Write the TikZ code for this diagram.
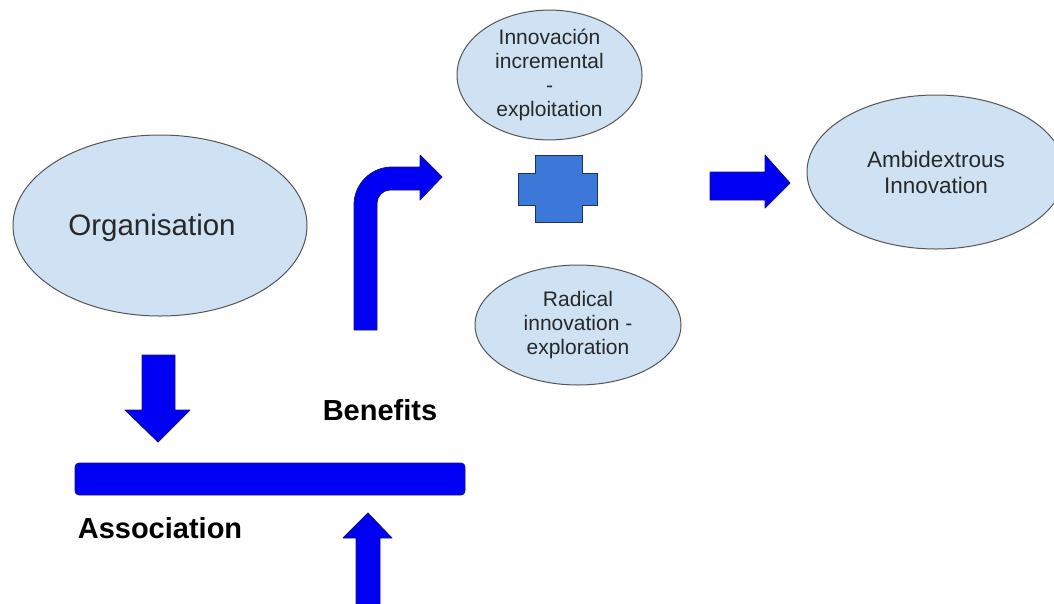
\documentclass[tikz,border=0pt]{standalone}
\usepackage{fontspec}
\setmainfont{Liberation Sans}
\usetikzlibrary{shapes.geometric}
\definecolor{ellfill}{RGB}{207,226,243}
\definecolor{ellline}{RGB}{85,85,85}
\definecolor{arrblue}{RGB}{0,0,245}
\definecolor{arrline}{RGB}{20,20,110}
\definecolor{crossfill}{RGB}{60,120,216}
\definecolor{crossline}{RGB}{28,50,100}
\definecolor{txt}{RGB}{40,40,40}
\tikzset{
  oval/.style={ellipse, draw=ellline, fill=ellfill, line width=1pt, inner sep=0pt, align=center, text=txt},
  blockarrow/.style={fill=arrblue, draw=arrline, line width=0.8pt, line join=round},
  crossshape/.style={fill=crossfill, draw=crossline, line width=1pt},
  boldlabel/.style={font=\fontsize{29}{34}\selectfont\bfseries, text=black, inner sep=0pt},
  small/.style={font=\fontsize{21}{24}\selectfont}
}
\begin{document}
\begin{tikzpicture}[x=1pt,y=-1pt]
\useasboundingbox (0,0) rectangle (1054,603);
% ellipses
\node[oval, minimum width=294pt, minimum height=181pt] (org) at (160,225.5) {};
\node[text=txt, inner sep=0pt, font=\fontsize{29.5}{34}\selectfont] (orgtxt) at (152,228) {Organisation};
\node[oval, minimum width=185pt, minimum height=120pt, small] (incr) at (549.5,75) {Innovación\\incremental\\-\\exploitation};
\node[oval, minimum width=206pt, minimum height=120pt, small] (rad) at (578,325) {Radical\\innovation -\\exploration};
\node[oval, minimum width=258pt, minimum height=154pt, font=\fontsize{22.5}{26}\selectfont] (amb) at (936,172) {Ambidextrous\\Innovation};
% cross
\draw[crossshape] (535,155) -- (582,155) -- (582,173) -- (597,173) -- (597,205) -- (582,205) -- (582,222) -- (535,222) -- (535,205) -- (518,205) -- (518,173) -- (535,173) -- cycle;
\coordinate (plus) at (557,189);
% bent arrow
\draw[blockarrow] (354,330) -- (354,205) .. controls (354,184) and (371,167) .. (392,167) -- (420,167) -- (420,155) -- (442,177) -- (420,200) -- (420,190) -- (390,190) .. controls (383,190) and (377,196) .. (377,203) -- (377,330) -- cycle;
% right arrow
\draw[blockarrow] (710,172) -- (765,172) -- (765,155) -- (790,183) -- (765,208) -- (765,200) -- (710,200) -- cycle;
% down arrow
\draw[blockarrow] (142,355) -- (175,355) -- (175,410) -- (190,410) -- (158,442) -- (125,410) -- (142,410) -- cycle;
% bar
\draw[blockarrow, rounded corners=4pt] (75,463) rectangle (465,495);
\node[inner sep=0pt] (bar) at (270,479) {};
% up arrow
\draw[blockarrow] (356,606) -- (356,538) -- (343,538) -- (368,513) -- (392,538) -- (380,538) -- (380,606) -- cycle;
% labels
\node[boldlabel] (benefits) at (380,410) {Benefits};
\node[boldlabel] (assoc) at (160,528) {Association};
\end{tikzpicture}
\end{document}
